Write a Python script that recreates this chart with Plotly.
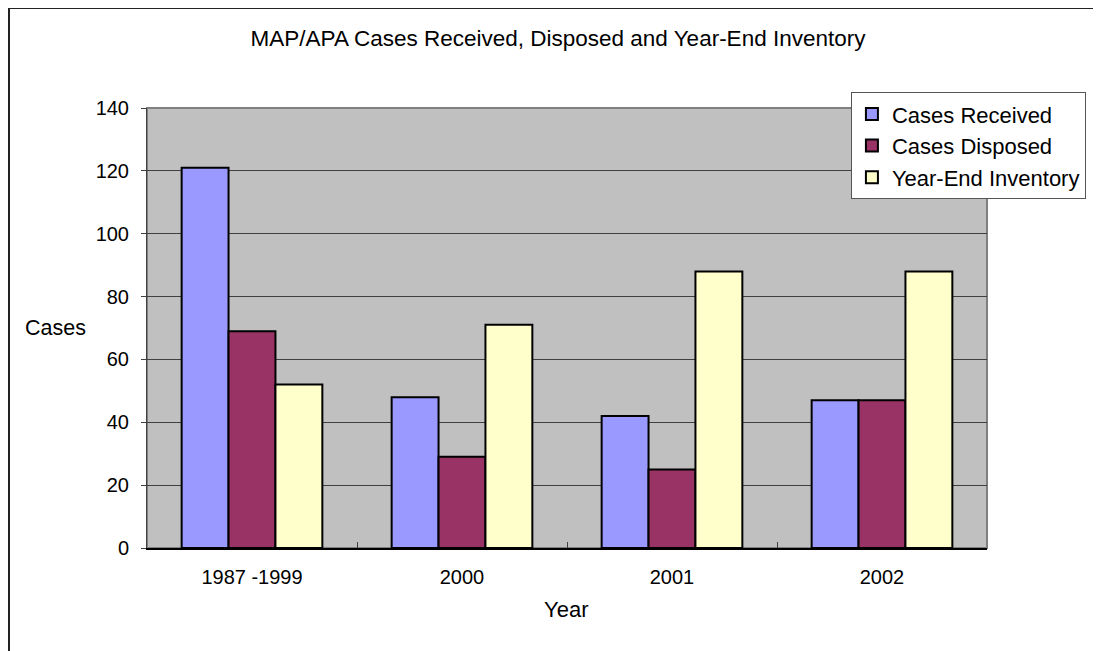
import plotly.graph_objects as go

categories = ["1987 -1999", "2000", "2001", "2002"]
received = [121, 48, 42, 47]
disposed = [69, 29, 25, 47]
inventory = [52, 71, 88, 88]
y_ticks = [0, 20, 40, 60, 80, 100, 120, 140]

FONT = "Liberation Sans, Arial, sans-serif"

fig = go.Figure()
for name, vals, color in [
    ("Cases Received", received, "#9999FF"),
    ("Cases Disposed", disposed, "#993366"),
    ("Year-End Inventory", inventory, "#FFFFCC"),
]:
    fig.add_trace(go.Bar(
        x=categories, y=vals, name=name,
        marker=dict(color=color, line=dict(color="black", width=2)),
    ))

fig.update_layout(
    width=1101, height=651,
    margin=dict(l=139, r=122, t=100, b=111),
    paper_bgcolor="white", plot_bgcolor="#C0C0C0",
    barmode="group", bargap=0.33, bargroupgap=0,
    font=dict(family=FONT, color="black"),
    title=dict(text="MAP/APA Cases Received, Disposed and Year-End Inventory",
               x=550 / 1101, xanchor="center", y=1 - 30 / 651, yanchor="middle",
               font=dict(size=22.5, family=FONT)),
    legend=dict(x=0.838, y=1.036, xanchor="left", yanchor="top",
                bgcolor="white", bordercolor="#555555", borderwidth=1,
                font=dict(size=22, family=FONT),
                traceorder="normal", itemsizing="constant", itemwidth=30),
    showlegend=True,
)
fig.update_xaxes(
    tickson="boundaries", ticks="inside", ticklen=6, tickcolor="#404040",
    showline=True, linecolor="black", linewidth=2, mirror=False,
    tickfont=dict(size=20, family=FONT), showgrid=False,
    ticklabelstandoff=10,
)
fig.update_yaxes(
    range=[0, 140], tickvals=y_ticks, ticks="outside", ticklen=5,
    tickcolor="#404040",
    showline=True, linecolor="#404040", linewidth=1,
    gridcolor="#404040", gridwidth=1,
    tickfont=dict(size=20, family=FONT), zeroline=False,
    ticklabelstandoff=8,
)
# plot frame top/right
fig.add_shape(type="rect", xref="paper", yref="paper", x0=0, x1=1, y0=0, y1=1,
              line=dict(color="#808080", width=2), layer="below")
# outer chart border
fig.add_shape(type="rect", xref="paper", yref="paper",
              x0=(1 - 139) / 840, x1=1.3, y0=-0.5, y1=(540 - 0) / 440,
              line=dict(color="#222222", width=2))
fig.add_annotation(text="Cases", xref="paper", yref="paper",
                   x=(47 - 139) / 840, y=(540 - 320) / 440,
                   xanchor="center", yanchor="middle",
                   showarrow=False, font=dict(size=21.5, family=FONT))
fig.add_annotation(text="Year", xref="paper", yref="paper",
                   x=(558 - 139) / 840, y=(540 - 601) / 440,
                   xanchor="center", yanchor="middle",
                   showarrow=False, font=dict(size=22, family=FONT))

fig.write_html("out.html")
